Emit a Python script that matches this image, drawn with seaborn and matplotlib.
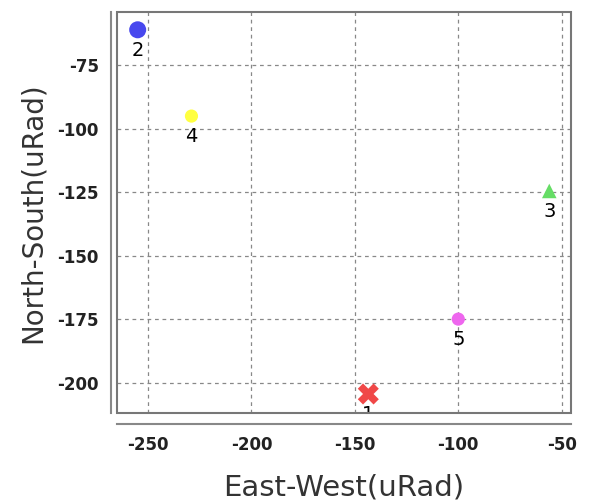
import matplotlib
matplotlib.use("Agg")
import matplotlib.pyplot as plt
import matplotlib.patches as mpatches
import matplotlib.transforms as mtransforms
import pandas as pd
import seaborn as sns

# Station offsets (uRad)
station_ids = ["1", "2", "3", "4", "5"]
east_west = [-143.5, -255.0, -56.0, -229.0, -100.0]
north_south = [-204.5, -61.0, -124.5, -95.0, -175.0]

point_colors = ["#f04848", "#4848ee", "#66dd66", "#ffff40", "#ee66ee"]
point_markers = ["X", "o", "^", "o", "o"]
point_sizes = [230, 150, 110, 90, 90]

x_ticks = [-250, -200, -150, -100, -50]
y_ticks = [-200, -175, -150, -125, -100, -75]

df = pd.DataFrame({"id": station_ids, "ew": east_west, "ns": north_south})

sns.set_style("white")
plt.rcParams["axes.unicode_minus"] = False
fig = plt.figure(figsize=(5.93, 5.03), dpi=100)
ax = fig.add_axes([0.1973, 0.1789, 0.7656, 0.7972])

sns.scatterplot(
    data=df, x="ew", y="ns", hue="id", style="id",
    palette=dict(zip(station_ids, point_colors)),
    markers=dict(zip(station_ids, point_markers)),
    size="id", sizes=dict(zip(station_ids, point_sizes)),
    linewidth=0, legend=False, ax=ax, zorder=3,
)

# id labels just under each point, clipped to the plot box
below = mtransforms.offset_copy(ax.transData, fig=fig, x=0, y=-8, units="points")
for sid, x, y in zip(station_ids, east_west, north_south):
    ax.text(x, y, sid, transform=below, ha="center", va="top",
            fontsize=14, color="black", clip_on=True)

ax.set_xlim(-265, -45.5)
ax.set_ylim(-212, -54)
ax.set_xticks(x_ticks)
ax.set_yticks(y_ticks)
ax.grid(True, linestyle=(0, (3, 3)), color="#888888", linewidth=0.9)

# box around plot area
ax.add_patch(mpatches.Rectangle((0, 0), 1, 1, transform=ax.transAxes,
                                fill=False, edgecolor="#777777", linewidth=1.5,
                                clip_on=False, zorder=4))
for side in ["top", "right"]:
    ax.spines[side].set_visible(False)
ax.spines["left"].set_position(("outward", 4.5))
ax.spines["bottom"].set_position(("outward", 8))
for side in ["left", "bottom"]:
    ax.spines[side].set_color("#888888")
    ax.spines[side].set_linewidth(1.5)

ax.tick_params(axis="both", direction="inout", length=5, width=1,
               color="#888888", labelsize=12, pad=6)
for lab in ax.get_xticklabels() + ax.get_yticklabels():
    lab.set_fontweight("bold")
    lab.set_color("#222222")

ax.set_xlabel("East-West(uRad)", fontsize=21, color="#333333", labelpad=14)
ax.set_ylabel("North-South(uRad)", fontsize=20, color="#333333", labelpad=8)
ax.yaxis.set_label_coords(-0.155, 0.5)

fig.savefig("out.png", dpi=100)
